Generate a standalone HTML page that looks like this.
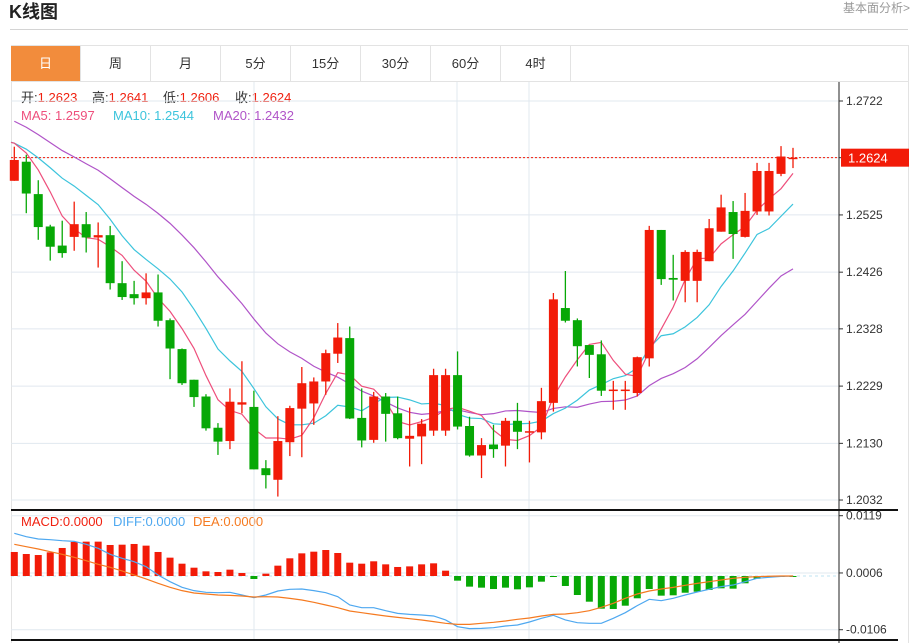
<!DOCTYPE html>
<html><head><meta charset="utf-8">
<style>
body{margin:0;width:919px;height:643px;overflow:hidden;background:#fff;font-family:"Liberation Sans","Noto Sans CJK SC",sans-serif;position:relative}
.abs{position:absolute}
.tab{position:absolute;top:46px;height:35px;width:70px;line-height:35px;text-align:center;font-size:13px;color:#333;border-right:1px solid #e3e3e3;box-sizing:border-box}
.lg{position:absolute;font-size:13px;line-height:15px;white-space:nowrap}
</style></head><body>
<div class="abs" style="left:9px;top:0px;font-size:18px;font-weight:bold;color:#222;line-height:24px">K线图</div>
<div class="abs" style="left:843px;top:0px;font-size:12px;color:#999;line-height:16px">基本面分析&gt;</div>
<div class="abs" style="left:10px;top:29px;width:898px;height:1px;background:#d4d4d4"></div>
<div class="abs" style="left:11px;top:45px;width:898px;height:598px;border:1px solid #e3e3e3;border-bottom:none;box-sizing:border-box"></div>
<div class="abs" style="left:11px;top:81px;width:898px;height:1px;background:#e3e3e3"></div>
<div class="tab" style="left:11px;background:#F28C3C;color:#fff">日</div>
<div class="tab" style="left:81px">周</div>
<div class="tab" style="left:151px">月</div>
<div class="tab" style="left:221px">5分</div>
<div class="tab" style="left:291px">15分</div>
<div class="tab" style="left:361px">30分</div>
<div class="tab" style="left:431px">60分</div>
<div class="tab" style="left:501px">4时</div>
<div class="lg" style="left:21px;top:90px;color:#333">开:<span style="color:#f0200f">1.2623</span></div>
<div class="lg" style="left:92px;top:90px;color:#333">高:<span style="color:#f0200f">1.2641</span></div>
<div class="lg" style="left:163px;top:90px;color:#333">低:<span style="color:#f0200f">1.2606</span></div>
<div class="lg" style="left:235px;top:90px;color:#333">收:<span style="color:#f0200f">1.2624</span></div>
<div class="lg" style="left:21px;top:108px;color:#EE4F7C">MA5: 1.2597</div>
<div class="lg" style="left:113px;top:108px;color:#3CC4DC">MA10: 1.2544</div>
<div class="lg" style="left:213px;top:108px;color:#B054C8">MA20: 1.2432</div>
<div class="lg" style="left:21px;top:514px;color:#f0200f">MACD:0.0000</div>
<div class="lg" style="left:113px;top:514px;color:#4EA8F0">DIFF:0.0000</div>
<div class="lg" style="left:193px;top:514px;color:#F57A20">DEA:0.0000</div>
<svg id="chart" class="abs" style="left:0;top:0" width="919" height="643"></svg>
<script>
const opens=[1.2584,1.2617,1.2561,1.2505,1.2472,1.2487,1.2509,1.2486,1.2490,1.2407,1.2388,1.2381,1.2391,1.2343,1.2293,1.2240,1.2211,1.2157,1.2134,1.2197,1.2193,1.2087,1.2067,1.2132,1.2190,1.2199,1.2237,1.2285,1.2312,1.2174,1.2136,1.2211,1.2182,1.2138,1.2142,1.2152,1.2152,1.2248,1.2160,1.2109,1.2128,1.2126,1.2169,1.2149,1.2149,1.2200,1.2364,1.2343,1.2300,1.2284,1.2221,1.2221,1.2217,1.2277,1.2499,1.2416,1.2411,1.2411,1.2445,1.2496,1.2530,1.2487,1.2531,1.2531,1.2596,1.2623];
const highs=[1.2643,1.2629,1.2585,1.2508,1.2515,1.2548,1.2530,1.2512,1.2506,1.2445,1.2411,1.2424,1.2422,1.2346,1.2294,1.2240,1.2215,1.2165,1.2225,1.2272,1.2221,1.2101,1.2177,1.2195,1.2262,1.2244,1.2292,1.2338,1.2332,1.2225,1.2219,1.2217,1.2211,1.2192,1.2172,1.2259,1.2259,1.2289,1.2176,1.2139,1.2162,1.2174,1.2200,1.2169,1.2226,1.2390,1.2428,1.2346,1.2300,1.2308,1.2238,1.2238,1.2280,1.2506,1.2499,1.2456,1.2464,1.2465,1.2518,1.2560,1.2549,1.2563,1.2615,1.2615,1.2644,1.2641];
const lows=[1.2584,1.2528,1.2482,1.2446,1.2451,1.2463,1.2460,1.2434,1.2396,1.2378,1.2370,1.2370,1.2332,1.2241,1.2231,1.2193,1.2152,1.2110,1.2120,1.2182,1.2085,1.2052,1.2038,1.2108,1.2106,1.2162,1.2214,1.2269,1.2172,1.2123,1.2131,1.2133,1.2137,1.2090,1.2094,1.2143,1.2143,1.2154,1.2107,1.2070,1.2105,1.2090,1.2120,1.2097,1.2137,1.2185,1.2339,1.2263,1.2243,1.2212,1.2188,1.2188,1.2211,1.2263,1.2404,1.2377,1.2374,1.2374,1.2445,1.2496,1.2449,1.2486,1.2525,1.2524,1.2592,1.2606];
const closes=[1.2620,1.2562,1.2504,1.2470,1.2459,1.2509,1.2486,1.2490,1.2407,1.2383,1.2381,1.2391,1.2342,1.2294,1.2234,1.2210,1.2156,1.2133,1.2202,1.2201,1.2085,1.2075,1.2134,1.2191,1.2234,1.2237,1.2286,1.2313,1.2173,1.2135,1.2211,1.2181,1.2139,1.2143,1.2164,1.2248,1.2248,1.2159,1.2109,1.2127,1.2120,1.2169,1.2150,1.2151,1.2203,1.2379,1.2342,1.2298,1.2283,1.2221,1.2223,1.2223,1.2279,1.2499,1.2414,1.2413,1.2461,1.2461,1.2502,1.2538,1.2492,1.2532,1.2601,1.2601,1.2626,1.2624];
const priorCloses=[1.2770,1.2760,1.2745,1.2735,1.2730,1.2720,1.2715,1.2700,1.2690,1.2685,1.2665,1.2655,1.2640,1.2640,1.2645,1.2647,1.2650,1.2660,1.2668];
const priceTicks=[1.2722,1.2624,1.2525,1.2426,1.2328,1.2229,1.2130,1.2032];
const priceTickLabels=["1.2722","","1.2525","1.2426","1.2328","1.2229","1.2130","1.2032"];
const lastPrice=1.2624;
const macdHist=[0.00474,0.00434,0.00414,0.00467,0.00553,0.00671,0.00678,0.00678,0.00612,0.00618,0.00632,0.00599,0.00474,0.00362,0.00243,0.00164,0.00092,0.00079,0.00125,0.00059,-0.00059,0.00046,0.00204,0.00349,0.00447,0.0048,0.00513,0.00454,0.00263,0.00243,0.0029,0.0023,0.00178,0.0019,0.0023,0.0025,0.00105,-0.00092,-0.0021,-0.0023,-0.00257,-0.0023,-0.00263,-0.00224,-0.00112,-0.0002,-0.00197,-0.00375,-0.00507,-0.00645,-0.00651,-0.00586,-0.0044,-0.00257,-0.00388,-0.00381,-0.0033,-0.0031,-0.00276,-0.00243,-0.0025,-0.00144,-0.00053,-0.00026,-0.0001,-0.00005];
const diffLine=[0.00842,0.00776,0.0073,0.00717,0.00697,0.00684,0.00625,0.00546,0.00428,0.00349,0.00283,0.00184,0.0002,-0.00112,-0.00224,-0.00289,-0.00322,-0.00329,-0.00322,-0.00375,-0.00428,-0.00375,-0.00296,-0.00263,-0.00257,-0.00289,-0.00329,-0.00408,-0.00572,-0.00625,-0.00625,-0.00684,-0.00737,-0.00757,-0.0077,-0.00789,-0.00868,-0.01,-0.01039,-0.01033,-0.0102,-0.00987,-0.00967,-0.00908,-0.00835,-0.00776,-0.00868,-0.00921,-0.00934,-0.00934,-0.00835,-0.00724,-0.00585,-0.0046,-0.00487,-0.00441,-0.00375,-0.00316,-0.00263,-0.0021,-0.00178,-0.00112,-0.00046,-0.00026,-0.00007,0];
const deaLine=[0.00625,0.00579,0.00533,0.0048,0.00428,0.00368,0.00303,0.0023,0.00171,0.00099,0.0002,-0.00059,-0.00145,-0.00224,-0.00289,-0.00336,-0.00355,-0.00375,-0.00382,-0.00395,-0.00414,-0.00408,-0.00414,-0.00441,-0.00474,-0.0052,-0.00572,-0.00625,-0.00691,-0.00724,-0.00757,-0.00789,-0.00816,-0.00842,-0.00868,-0.00901,-0.00934,-0.00954,-0.00954,-0.00934,-0.00914,-0.00888,-0.00855,-0.00829,-0.00789,-0.00757,-0.0075,-0.00724,-0.00684,-0.00618,-0.00539,-0.00441,-0.00355,-0.00296,-0.00257,-0.00224,-0.00184,-0.00145,-0.00112,-0.00079,-0.00046,-0.00026,-0.00013,-0.00005,0,0];
const macdTicks=[0.0119,0.0006,-0.0106];
const macdTickLabels=["0.0119","0.0006","-0.0106"];

const NS="http://www.w3.org/2000/svg";
const svg=document.getElementById('chart');
const RED="#F21B08",GREEN="#07A806";
const PLOT_L=11,AXIS_X=839;
const xAt=i=>14.3+i*11.98;
const yP=p=>101+(1.2722-p)*5783;
const yM=v=>576-v*5067;
function mk(tag,attrs){const e=document.createElementNS(NS,tag);for(const k in attrs)e.setAttribute(k,attrs[k]);svg.appendChild(e);return e;}

priceTicks.forEach((t,i)=>{
  const g=mk('line',{x1:PLOT_L,x2:AXIS_X,y1:yP(t),y2:yP(t),stroke:'#e1e8ef','stroke-width':1});
  
  
  mk('line',{x1:AXIS_X,x2:AXIS_X+4,y1:yP(t),y2:yP(t),stroke:'#333'});
  if(priceTickLabels[i]){const tx=mk('text',{x:846,y:yP(t)+4,'font-size':12,fill:'#333'});tx.textContent=priceTickLabels[i];
  
  }
});
[254,457,529].forEach(x=>{
  const v=mk('line',{x1:x,x2:x,y1:82,y2:640,stroke:'#e1e8ef'});
  
  
});
macdTicks.forEach((t,i)=>{
  const g=mk('line',{x1:PLOT_L,x2:AXIS_X,y1:yM(t),y2:yM(t),stroke:'#e1e8ef'});
  
  
  mk('line',{x1:AXIS_X,x2:AXIS_X+4,y1:yM(t),y2:yM(t),stroke:'#333'});
  const tx=mk('text',{x:846,y:yM(t)+4,'font-size':12,fill:'#333'});tx.textContent=macdTickLabels[i];
  
  
});
const ax=mk('line',{x1:AXIS_X,x2:AXIS_X,y1:82,y2:643,stroke:'#222'});


const sep=mk('line',{x1:PLOT_L,x2:898,y1:510,y2:510,stroke:'#111','stroke-width':2});


const sepb=mk('line',{x1:PLOT_L,x2:898,y1:640,y2:640,stroke:'#111','stroke-width':2});



const lp=mk('line',{x1:PLOT_L,x2:AXIS_X,y1:yP(lastPrice),y2:yP(lastPrice),stroke:RED,'stroke-dasharray':'2,2'});


const tag=mk('rect',{x:841,y:yP(lastPrice)-9,width:68,height:18,fill:'#F21B08'});


const tagt=mk('text',{x:848,y:yP(lastPrice)+5,'font-size':13,fill:'#fff'});tagt.textContent=lastPrice.toFixed(4);



const all=priorCloses.concat(closes);
function ma(n,i){const j=i+priorCloses.length;if(j-n+1<0)return null;let s=0;for(let k=j-n+1;k<=j;k++)s+=all[k];return s/n;}
[[20,'#B054C8','ma20-line'],[10,'#3CC4DC','ma10-line'],[5,'#EE4F7C','ma5-line']].forEach(([n,col,name])=>{
  const m=closes.map((c,i)=>ma(n,i));
  const prev=ma(n,-1);
  const pts=m.map((v,i)=>xAt(i)+','+yP(v));
  if(prev!==null){
    const y0=yP(m[0])+(yP(prev)-yP(m[0]))*(xAt(0)-PLOT_L)/11.98;
    pts.unshift(PLOT_L+','+y0);
  }
  const pl=mk('polyline',{points:pts.join(' '),fill:'none',stroke:col,'stroke-width':1.2});
  
  
});
closes.forEach((c,i)=>{
  const o=opens[i],up=c>=o,col=up?RED:GREEN,x=xAt(i);
  const w=mk('line',{x1:x,x2:x,y1:yP(highs[i]),y2:yP(lows[i]),stroke:col,'stroke-width':1.3});
  
  
  const top=yP(Math.max(o,c)),bot=yP(Math.min(o,c));
  const r=mk('rect',{x:x-4.5,y:top,width:9,height:Math.max(1.5,bot-top),fill:col});
  
  
});
const zl=mk('line',{x1:PLOT_L,x2:AXIS_X,y1:yM(0),y2:yM(0),stroke:'#bfe3f2','stroke-dasharray':'3,3'});


macdHist.forEach((v,i)=>{
  const y0=yM(0),y1=yM(v);
  const b=mk('rect',{x:xAt(i)-3.5,y:Math.min(y0,y1),width:7,height:Math.max(1,Math.abs(y1-y0)),fill:v>=0?RED:GREEN});
  
  
});
const dl=mk('polyline',{points:diffLine.map((v,i)=>xAt(i)+','+yM(v)).join(' '),fill:'none',stroke:'#4EA8F0','stroke-width':1.2});


const el=mk('polyline',{points:deaLine.map((v,i)=>xAt(i)+','+yM(v)).join(' '),fill:'none',stroke:'#F57A20','stroke-width':1.2});


</script>
</body></html>
